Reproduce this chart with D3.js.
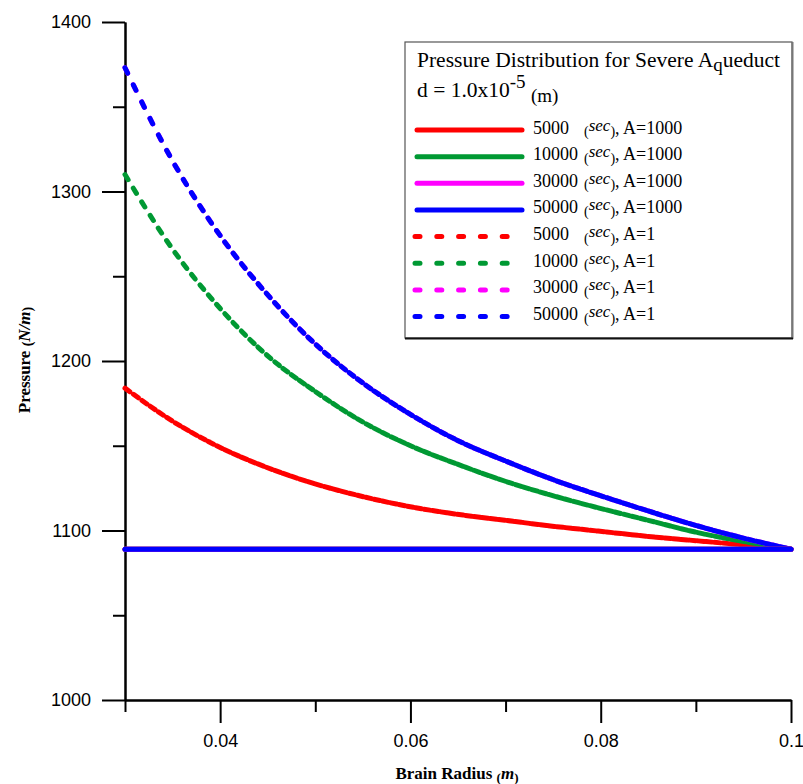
<!DOCTYPE html>
<html>
<head>
<meta charset="utf-8">
<script src="https://cdn.jsdelivr.net/npm/d3@7"></script>
<style>
  body { margin: 0; background: #fff; }
  svg { display: block; }
</style>
</head>
<body>
<div id="chart"></div>
<script>
// Brain radius (m)
const radius = [0.03, 0.035, 0.04, 0.045, 0.05, 0.055, 0.06, 0.065, 0.07, 0.075, 0.08, 0.085, 0.09, 0.095, 0.1];

// A = 1 (dashed) pressure, N/m
const p5000A1  = [1184, 1164.5, 1149, 1137, 1127.5, 1120, 1114, 1109.5, 1106, 1102.5, 1099.5, 1096.5, 1094, 1091.5, 1089];
const p10000A1 = [1310, 1266, 1231, 1203, 1182, 1164, 1150, 1139, 1129, 1120.5, 1113, 1106, 1099, 1093.5, 1089];
const p30000A1 = [1373, 1318, 1274, 1239, 1210, 1187, 1168.5, 1153, 1141, 1130, 1120.5, 1111.5, 1103, 1095.5, 1089];
const p50000A1 = [1373, 1318, 1274, 1239, 1210, 1187, 1168.5, 1153, 1141, 1130, 1120.5, 1111.5, 1103, 1095.5, 1089];

// A = 1000 (solid) pressure, flat
const p5000A1000  = [1089, 1089, 1089, 1089, 1089, 1089, 1089, 1089, 1089, 1089, 1089, 1089, 1089, 1089, 1089];
const p10000A1000 = [1089, 1089, 1089, 1089, 1089, 1089, 1089, 1089, 1089, 1089, 1089, 1089, 1089, 1089, 1089];
const p30000A1000 = [1089, 1089, 1089, 1089, 1089, 1089, 1089, 1089, 1089, 1089, 1089, 1089, 1089, 1089, 1089];
const p50000A1000 = [1089, 1089, 1089, 1089, 1089, 1089, 1089, 1089, 1089, 1089, 1089, 1089, 1089, 1089, 1089];

const times = ['5000', '10000', '30000', '50000'];
const aValues = ['1000', '1'];

const xMajor = [0.04, 0.06, 0.08, 0.1];
const xMinor = [0.03, 0.05, 0.07, 0.09];
const yMajor = [1000, 1100, 1200, 1300, 1400];
const yMinor = [1050, 1150, 1250, 1350];

const colors = ['#ff0000', '#009933', '#ff00ff', '#0000ff'];

const series = [
  { time: times[0], a: aValues[0], values: p5000A1000, color: colors[0], dashed: false },
  { time: times[1], a: aValues[0], values: p10000A1000, color: colors[1], dashed: false },
  { time: times[2], a: aValues[0], values: p30000A1000, color: colors[2], dashed: false },
  { time: times[3], a: aValues[0], values: p50000A1000, color: colors[3], dashed: false },
  { time: times[0], a: aValues[1], values: p5000A1, color: colors[0], dashed: true },
  { time: times[1], a: aValues[1], values: p10000A1, color: colors[1], dashed: true },
  { time: times[2], a: aValues[1], values: p30000A1, color: colors[2], dashed: true },
  { time: times[3], a: aValues[1], values: p50000A1, color: colors[3], dashed: true }
];

const width = 803, height = 784;
const margin = { top: 22, right: 12, bottom: 84, left: 125 };
const serif = '"Liberation Serif", "Times New Roman", serif';
const sans = '"Liberation Sans", Arial, sans-serif';

const svg = d3.select('#chart').append('svg')
  .attr('width', width)
  .attr('height', height);

const x = d3.scaleLinear().domain([0.03, 0.1]).range([margin.left, width - margin.right]);
const y = d3.scaleLinear().domain([1000, 1400]).range([height - margin.bottom, margin.top]);

// Axes
function styleAxis(g) {
  g.selectAll('path.domain').attr('stroke', '#000').attr('stroke-width', 2);
  g.selectAll('.tick line').attr('stroke', '#000').attr('stroke-width', 2);
  g.selectAll('.tick text')
    .attr('font-family', sans)
    .attr('font-size', '18px')
    .attr('fill', '#000');
}

const xAxisY = y(1000);
svg.append('g')
  .attr('transform', `translate(0,${xAxisY})`)
  .call(d3.axisBottom(x).tickValues(xMinor).tickSize(12).tickSizeOuter(0).tickFormat(''))
  .call(styleAxis);
svg.append('g')
  .attr('transform', `translate(0,${xAxisY})`)
  .call(d3.axisBottom(x).tickValues(xMajor).tickSize(23).tickSizeOuter(0).tickPadding(11)
    .tickFormat(d => d === 0.1 ? '0.1' : d3.format('.2f')(d)))
  .call(styleAxis);

svg.append('g')
  .attr('transform', `translate(${x(0.03)},0)`)
  .call(d3.axisLeft(y).tickValues(yMinor).tickSize(12).tickSizeOuter(0).tickFormat(''))
  .call(styleAxis);
svg.append('g')
  .attr('transform', `translate(${x(0.03)},0)`)
  .call(d3.axisLeft(y).tickValues(yMajor).tickSize(23).tickSizeOuter(0).tickPadding(11)
    .tickFormat(d3.format('d')))
  .call(styleAxis);

// Axis titles
const xTitle = svg.append('text')
  .attr('x', 457)
  .attr('y', 779)
  .attr('text-anchor', 'middle')
  .attr('font-family', serif)
  .attr('font-weight', 'bold')
  .attr('font-size', '17px');
xTitle.append('tspan').text('Brain Radius ');
xTitle.append('tspan').attr('font-size', '13px').attr('dy', 3).text('(');
xTitle.append('tspan').attr('font-style', 'italic').attr('dy', -3).text('m');
xTitle.append('tspan').attr('font-size', '13px').attr('dy', 3).text(')');

const yTitle = svg.append('text')
  .attr('transform', 'translate(30,360) rotate(-90)')
  .attr('text-anchor', 'middle')
  .attr('font-family', serif)
  .attr('font-weight', 'bold')
  .attr('font-size', '17px');
yTitle.append('tspan').text('Pressure ');
yTitle.append('tspan').attr('font-size', '14px').attr('dy', 2).text('(');
yTitle.append('tspan').attr('font-style', 'italic').attr('dy', -2).text('N/m');
yTitle.append('tspan').attr('font-size', '14px').attr('dy', 2).text(')');

// Curves
const line = d3.line()
  .x((d, i) => x(radius[i]))
  .y(d => y(d))
  .curve(d3.curveMonotoneX);

const plot = svg.append('g');

// dashed lines: the dash pattern restarts on every short piece, so flat parts look solid
function drawDashed(values, color) {
  const tmp = plot.append('path').attr('d', line(values)).attr('fill', 'none');
  const node = tmp.node();
  const total = node.getTotalLength();
  const step = 8.3;
  const cuts = [];
  let nextX = x(radius[0]);
  for (let s = 0; s <= total; s += 0.5) {
    const p = node.getPointAtLength(s);
    if (p.x >= nextX) {
      cuts.push([p.x, p.y]);
      nextX += step;
    }
  }
  const end = node.getPointAtLength(total);
  cuts.push([end.x, end.y]);
  tmp.remove();

  const g = plot.append('g');
  for (let i = 0; i < cuts.length - 1; i++) {
    g.append('line')
      .attr('x1', cuts[i][0]).attr('y1', cuts[i][1])
      .attr('x2', cuts[i + 1][0]).attr('y2', cuts[i + 1][1])
      .attr('stroke', color)
      .attr('stroke-width', 5)
      .attr('stroke-linecap', 'round')
      .attr('stroke-dasharray', '6,200');
  }
}

series.filter(s => s.dashed).forEach(s => drawDashed(s.values, s.color));

series.filter(s => !s.dashed).forEach(s => {
  plot.append('path')
    .attr('d', line(s.values))
    .attr('fill', 'none')
    .attr('stroke', s.color)
    .attr('stroke-width', 5)
    .attr('stroke-linecap', 'round');
});

// Legend
const legend = svg.append('g');
legend.append('rect')
  .attr('x', 405).attr('y', 42)
  .attr('width', 387).attr('height', 296)
  .attr('fill', '#fff')
  .attr('stroke', '#555')
  .attr('stroke-width', 1.2);
legend.append('line')
  .attr('x1', 792.5).attr('y1', 42).attr('x2', 792.5).attr('y2', 339)
  .attr('stroke', '#777').attr('stroke-width', 2);
legend.append('line')
  .attr('x1', 405).attr('y1', 338.5).attr('x2', 793).attr('y2', 338.5)
  .attr('stroke', '#111').attr('stroke-width', 2);

const t1 = legend.append('text')
  .attr('x', 417).attr('y', 67)
  .attr('font-family', serif)
  .attr('font-size', '21.5px');
t1.append('tspan').text('Pressure Distribution for Severe A');
t1.append('tspan').attr('dy', 4).attr('font-size', '19px').text('q');
t1.append('tspan').attr('dy', -4).text('ueduct');

const t2 = legend.append('text')
  .attr('x', 417).attr('y', 97)
  .attr('font-family', serif)
  .attr('font-size', '21.5px');
t2.append('tspan').text('d = 1.0x10');
t2.append('tspan').attr('dy', -9).attr('font-size', '19px').text('-5');
t2.append('tspan').attr('x', 531).attr('dy', 14).attr('font-size', '19px').text('(m)');

const rowY = i => 130 + i * 26.65;

series.forEach((s, i) => {
  const ly = rowY(i);
  if (s.dashed) {
    legend.append('line')
      .attr('x1', 415).attr('x2', 514)
      .attr('y1', ly).attr('y2', ly)
      .attr('stroke', s.color)
      .attr('stroke-width', 5)
      .attr('stroke-linecap', 'round')
      .attr('stroke-dasharray', '5,16.8');
  } else {
    legend.append('line')
      .attr('x1', 417).attr('x2', 522)
      .attr('y1', ly).attr('y2', ly)
      .attr('stroke', s.color)
      .attr('stroke-width', 5)
      .attr('stroke-linecap', 'round');
  }
  legend.append('text')
    .attr('x', 533).attr('y', ly + 3.5)
    .attr('font-family', serif)
    .attr('font-size', '18px')
    .text(s.time);
  const lab = legend.append('text')
    .attr('x', 584).attr('y', ly + 6)
    .attr('font-family', serif)
    .attr('font-size', '14px');
  lab.append('tspan').text('(');
  lab.append('tspan').attr('font-style', 'italic').attr('font-size', '17px').attr('dy', -5.5).text('sec');
  lab.append('tspan').attr('dy', 5.5).text(')');
  lab.append('tspan').attr('font-size', '18px').attr('dy', -2.5).text(', A=' + s.a);
});
</script>
</body>
</html>
